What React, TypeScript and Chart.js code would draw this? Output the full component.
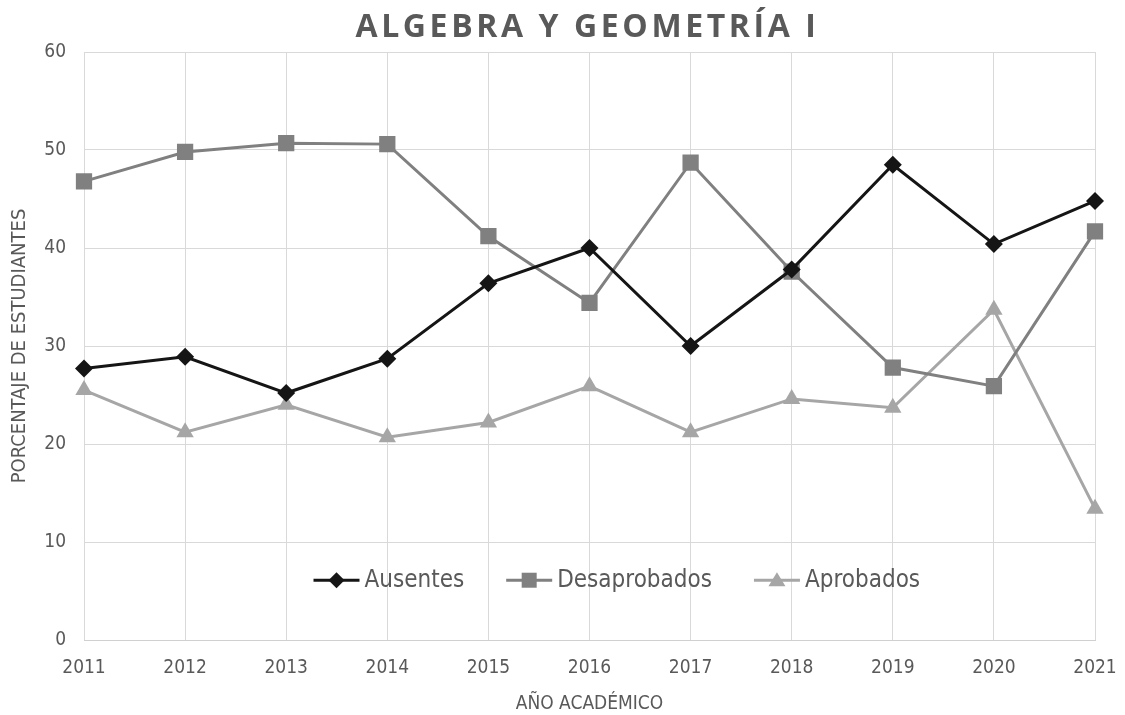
import React, { useEffect, useRef } from "react";
import { Chart, registerables } from "chart.js";

Chart.register(...registerables);

const years = ["2011", "2012", "2013", "2014", "2015", "2016", "2017", "2018", "2019", "2020", "2021"];
const ausentes = [27.7, 28.9, 25.2, 28.7, 36.4, 40.0, 30.0, 37.8, 48.5, 40.4, 44.8];
const desaprobados = [46.8, 49.8, 50.7, 50.6, 41.2, 34.4, 48.7, 37.6, 27.8, 25.9, 41.7];
const aprobados = [25.5, 21.2, 24.0, 20.7, 22.2, 25.9, 21.2, 24.6, 23.7, 33.7, 13.4];

const TITLE = "ALGEBRA Y GEOMETRÍA I";
const Y_TITLE = "PORCENTAJE DE ESTUDIANTES";
const X_TITLE = "AÑO ACADÉMICO";

const TEXT = "#595959";
const FONT = "'Liberation Sans Narrow', 'DejaVu Sans Condensed', sans-serif";

const titlePlugin = {
  id: "customTitle",
  afterDraw(chart: any) {
    const ctx = chart.ctx;
    const area = chart.chartArea;
    ctx.save();
    ctx.font = "bold 32px 'Open Sans', sans-serif";
    (ctx as any).letterSpacing = "3.6px";
    ctx.fillStyle = TEXT;
    ctx.textAlign = "center";
    ctx.textBaseline = "middle";
    ctx.fillText(TITLE, (area.left + area.right) / 2 - 2, 28);
    ctx.restore();
  },
};

const legendPlugin = {
  id: "inLegend",
  afterDraw(chart: any) {
    const ctx = chart.ctx;
    const area = chart.chartArea;
    const y = chart.scales.y.getPixelForValue(6.1);
    ctx.save();
    ctx.font = `24px ${FONT}`;
    ctx.textBaseline = "middle";
    const lineW = 46;
    const gap = 5;
    const itemGap = 42;
    const items = chart.data.datasets.map((ds: any) => ({
      ds,
      w: ctx.measureText(ds.label).width,
    }));
    const total = items.reduce((s: number, it: any) => s + lineW + gap + it.w, 0) + itemGap * (items.length - 1);
    let x = area.left + (area.right - area.left) * 0.527 - total / 2;
    for (const it of items) {
      const ds = it.ds;
      ctx.strokeStyle = ds.borderColor;
      ctx.lineWidth = 3;
      ctx.beginPath();
      ctx.moveTo(x, y);
      ctx.lineTo(x + lineW, y);
      ctx.stroke();
      const cx = x + lineW / 2;
      ctx.fillStyle = ds.borderColor;
      ctx.beginPath();
      if (ds.pointStyle === "rectRot") {
        const r = 8;
        ctx.moveTo(cx, y - r);
        ctx.lineTo(cx + r, y);
        ctx.lineTo(cx, y + r);
        ctx.lineTo(cx - r, y);
      } else if (ds.pointStyle === "rect") {
        ctx.rect(cx - 7.5, y - 7.5, 15, 15);
      } else {
        ctx.moveTo(cx, y - 8);
        ctx.lineTo(cx + 8.5, y + 6);
        ctx.lineTo(cx - 8.5, y + 6);
      }
      ctx.closePath();
      ctx.fill();
      ctx.fillStyle = TEXT;
      ctx.textAlign = "left";
      ctx.fillText(ds.label, x + lineW + gap, y + 1);
      x += lineW + gap + it.w + itemGap;
    }
    ctx.restore();
  },
};

export default function App() {
  const ref = useRef<HTMLCanvasElement>(null);
  useEffect(() => {
    document.body.style.margin = "0";
    const canvas = ref.current!;
    const chart = new Chart(canvas, {
      type: "line",
      data: {
        labels: years,
        datasets: [
          {
            label: "Ausentes",
            data: ausentes,
            borderColor: "#151515",
            backgroundColor: "#151515",
            borderWidth: 3,
            pointStyle: "rectRot",
            pointRadius: 9,
            pointBorderWidth: 0,
            tension: 0,
          },
          {
            label: "Desaprobados",
            data: desaprobados,
            borderColor: "#808080",
            backgroundColor: "#808080",
            borderWidth: 3,
            pointStyle: "rect",
            pointRadius: 11.5,
            pointBorderWidth: 0,
            tension: 0,
          },
          {
            label: "Aprobados",
            data: aprobados,
            borderColor: "#a6a6a6",
            backgroundColor: "#a6a6a6",
            borderWidth: 3,
            pointStyle: "triangle",
            pointRadius: 10,
            pointBorderWidth: 0,
            tension: 0,
          },
        ],
      },
      options: {
        responsive: false,
        animation: false,
        layout: { padding: { top: 52, right: 30, left: 0, bottom: 0 } },
        plugins: {
          legend: { display: false },
          title: { display: false },
          tooltip: { enabled: false },
        },
        scales: {
          x: {
            type: "category",
            offset: false,
            grid: { color: "#d9d9d9", lineWidth: 1, drawTicks: false },
            border: { color: "#d0d0d0" },
            ticks: { color: TEXT, font: { family: FONT, size: 19 }, padding: 17, maxRotation: 0 },
            title: { display: true, text: X_TITLE, color: TEXT, font: { family: FONT, size: 19 }, padding: { top: 4, bottom: 0 } },
            afterFit(scale: any) {
              scale.height = 75;
              scale.paddingLeft = 0;
              scale.paddingRight = 0;
            },
          },
          y: {
            min: 0,
            max: 60,
            ticks: { stepSize: 10, color: TEXT, font: { family: FONT, size: 19 }, padding: 18 },
            grid: { color: "#d9d9d9", lineWidth: 1, drawTicks: false },
            border: { display: false },
            title: { display: true, text: Y_TITLE, color: TEXT, font: { family: FONT, size: 20 }, padding: { top: 8, bottom: 6 } },
            afterFit(scale: any) {
              scale.width = 84;
              scale.paddingTop = 0;
              scale.paddingBottom = 0;
            },
          },
        },
      },
      plugins: [titlePlugin, legendPlugin],
    });
    return () => chart.destroy();
  }, []);
  return (
    <div style={{ width: 1125, height: 715, background: "#fff" }}>
      <canvas ref={ref} width={1125} height={715} style={{ display: "block" }} />
    </div>
  );
}
